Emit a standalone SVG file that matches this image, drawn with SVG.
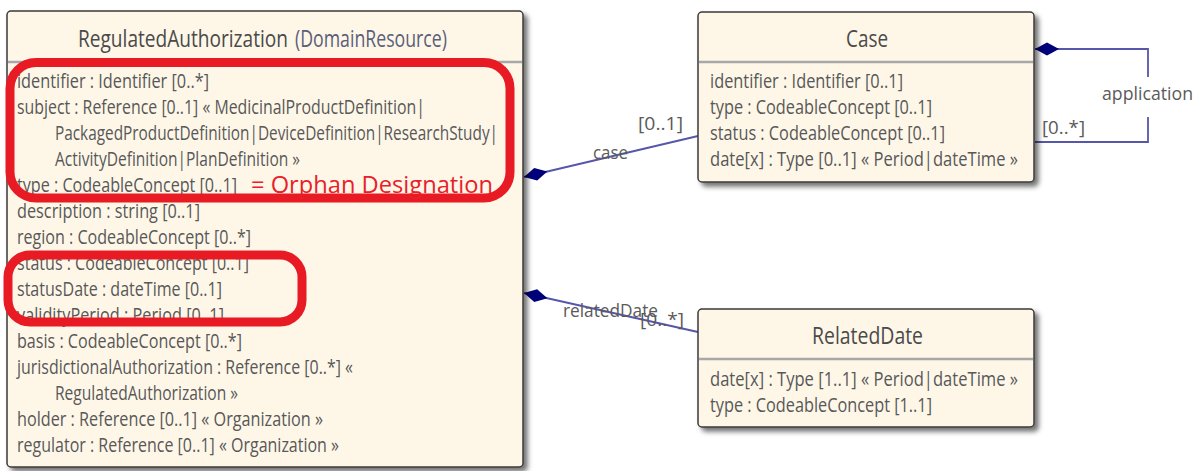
<svg xmlns="http://www.w3.org/2000/svg" width="1201" height="471" viewBox="0 0 1201 471">
  <style>
    .box { fill: #fef7e8; stroke: #3a3a3a; stroke-width: 1.5; filter: url(#shadow); }
    .sep { stroke: #a8a8a8; stroke-width: 2.5; }
    .title { font-family: "Open Sans", "Liberation Sans", sans-serif; font-size: 24px; fill: #4a4a4a; }
    .super { fill: #5a6078; }
    .attr { font-family: "Open Sans", "Liberation Sans", sans-serif; font-size: 20px; fill: #585858; }
    .lbl { font-family: "Open Sans", "Liberation Sans", sans-serif; font-size: 18.5px; fill: #5a5a5a; }
    .link { fill: none; stroke: #5656aa; stroke-width: 1.8; }
    .note { fill: none; stroke: #e81a24; stroke-width: 9; }
    .notetext { font-family: "Open Sans", "Liberation Sans", sans-serif; font-size: 23.5px; fill: #e8202a; }
  </style>
  <defs>
    <filter id="shadow" x="-5%" y="-5%" width="115%" height="115%">
      <feDropShadow dx="4" dy="4" stdDeviation="2.5" flood-color="#000" flood-opacity="0.55"/>
    </filter>
    <marker id="diamond" markerUnits="userSpaceOnUse" markerWidth="26" markerHeight="16" refX="0" refY="8" orient="auto" overflow="visible">
      <path d="M0,8 L12,1.5 L24,8 L12,14.5 Z" fill="#00007a"/>
    </marker>
  </defs>

  <rect width="1201" height="471" fill="#ffffff"/>

  <!-- connectors -->
  <g id="connectors">
    <path class="link" d="M524,177 L698,136" marker-start="url(#diamond)"/>
    <text class="lbl" x="593" y="159" textLength="35" lengthAdjust="spacingAndGlyphs">case</text>
    <text class="lbl" x="638" y="130" textLength="45" lengthAdjust="spacingAndGlyphs">[0..1]</text>

    <path class="link" d="M524,293 L698,332" marker-start="url(#diamond)"/>
    <text class="lbl" x="563" y="317" textLength="95" lengthAdjust="spacingAndGlyphs">relatedDate</text>
    <text class="lbl" x="640" y="326" textLength="44" lengthAdjust="spacingAndGlyphs">[0..*]</text>

    <path class="link" d="M1035,49 H1148 V77 M1148,117 V142 H1035" marker-start="url(#diamond)"/>
    <text class="lbl" x="1102" y="100" textLength="91" lengthAdjust="spacingAndGlyphs">application</text>
    <text class="lbl" x="1042" y="134" textLength="43" lengthAdjust="spacingAndGlyphs">[0..*]</text>
  </g>

  <!-- RegulatedAuthorization -->
  <g id="regulated-authorization">
    <rect class="box" x="7" y="11" width="516" height="456" rx="4"/>
    <line class="sep" x1="8" y1="62" x2="522" y2="62"/>
    <text class="title" x="78" y="47" textLength="210" lengthAdjust="spacingAndGlyphs">RegulatedAuthorization</text>
    <text class="title super" x="295" y="47" textLength="152" lengthAdjust="spacingAndGlyphs">(DomainResource)</text>
    <text class="attr" x="17" y="87.5" textLength="192" lengthAdjust="spacingAndGlyphs">identifier : Identifier [0..*]</text>
    <text class="attr" x="17" y="113.5" textLength="408" lengthAdjust="spacingAndGlyphs">subject : Reference [0..1] « MedicinalProductDefinition|</text>
    <text class="attr" x="55" y="139.5" textLength="443" lengthAdjust="spacingAndGlyphs">PackagedProductDefinition|DeviceDefinition|ResearchStudy|</text>
    <text class="attr" x="55" y="165.5" textLength="245" lengthAdjust="spacingAndGlyphs">ActivityDefinition|PlanDefinition »</text>
    <text class="attr" x="17" y="191.5" textLength="220" lengthAdjust="spacingAndGlyphs">type : CodeableConcept [0..1]</text>
    <text class="attr" x="17" y="217.5" textLength="183" lengthAdjust="spacingAndGlyphs">description : string [0..1]</text>
    <text class="attr" x="17" y="243.5" textLength="234" lengthAdjust="spacingAndGlyphs">region : CodeableConcept [0..*]</text>
    <text class="attr" x="17" y="269.5" textLength="232" lengthAdjust="spacingAndGlyphs">status : CodeableConcept [0..1]</text>
    <text class="attr" x="17" y="295.5" textLength="205" lengthAdjust="spacingAndGlyphs">statusDate : dateTime [0..1]</text>
    <text class="attr" x="17" y="321.5" textLength="207" lengthAdjust="spacingAndGlyphs">validityPeriod : Period [0..1]</text>
    <text class="attr" x="17" y="347.5" textLength="225" lengthAdjust="spacingAndGlyphs">basis : CodeableConcept [0..*]</text>
    <text class="attr" x="17" y="373.5" textLength="336" lengthAdjust="spacingAndGlyphs">jurisdictionalAuthorization : Reference [0..*] «</text>
    <text class="attr" x="55" y="399.5" textLength="183" lengthAdjust="spacingAndGlyphs">RegulatedAuthorization »</text>
    <text class="attr" x="17" y="425.5" textLength="306" lengthAdjust="spacingAndGlyphs">holder : Reference [0..1] « Organization »</text>
    <text class="attr" x="17" y="451.5" textLength="322" lengthAdjust="spacingAndGlyphs">regulator : Reference [0..1] « Organization »</text>
  </g>

  <!-- Case -->
  <g id="case">
    <rect class="box" x="698" y="12" width="336" height="170" rx="4"/>
    <line class="sep" x1="699" y1="62" x2="1033" y2="62"/>
    <text class="title" x="846" y="47" textLength="42" lengthAdjust="spacingAndGlyphs">Case</text>
    <text class="attr" x="710" y="87.5" textLength="193" lengthAdjust="spacingAndGlyphs">identifier : Identifier [0..1]</text>
    <text class="attr" x="710" y="113.5" textLength="222" lengthAdjust="spacingAndGlyphs">type : CodeableConcept [0..1]</text>
    <text class="attr" x="710" y="139.5" textLength="235" lengthAdjust="spacingAndGlyphs">status : CodeableConcept [0..1]</text>
    <text class="attr" x="710" y="165.5" textLength="308" lengthAdjust="spacingAndGlyphs">date[x] : Type [0..1] « Period|dateTime »</text>
  </g>

  <!-- RelatedDate -->
  <g id="related-date">
    <rect class="box" x="698" y="309" width="336" height="118" rx="4"/>
    <line class="sep" x1="699" y1="359" x2="1033" y2="359"/>
    <text class="title" x="812" y="344" textLength="111" lengthAdjust="spacingAndGlyphs">RelatedDate</text>
    <text class="attr" x="710" y="386" textLength="308" lengthAdjust="spacingAndGlyphs">date[x] : Type [1..1] « Period|dateTime »</text>
    <text class="attr" x="710" y="412" textLength="222" lengthAdjust="spacingAndGlyphs">type : CodeableConcept [1..1]</text>
  </g>

  <!-- red highlight marks -->
  <g id="annotations">
    <rect class="note" x="10" y="62.5" width="500" height="135.5" rx="26"/>
    <text class="notetext" x="251" y="193" textLength="242" lengthAdjust="spacingAndGlyphs">= Orphan Designation</text>
    <rect class="note" x="8" y="255" width="294" height="67" rx="22"/>
  </g>
</svg>
